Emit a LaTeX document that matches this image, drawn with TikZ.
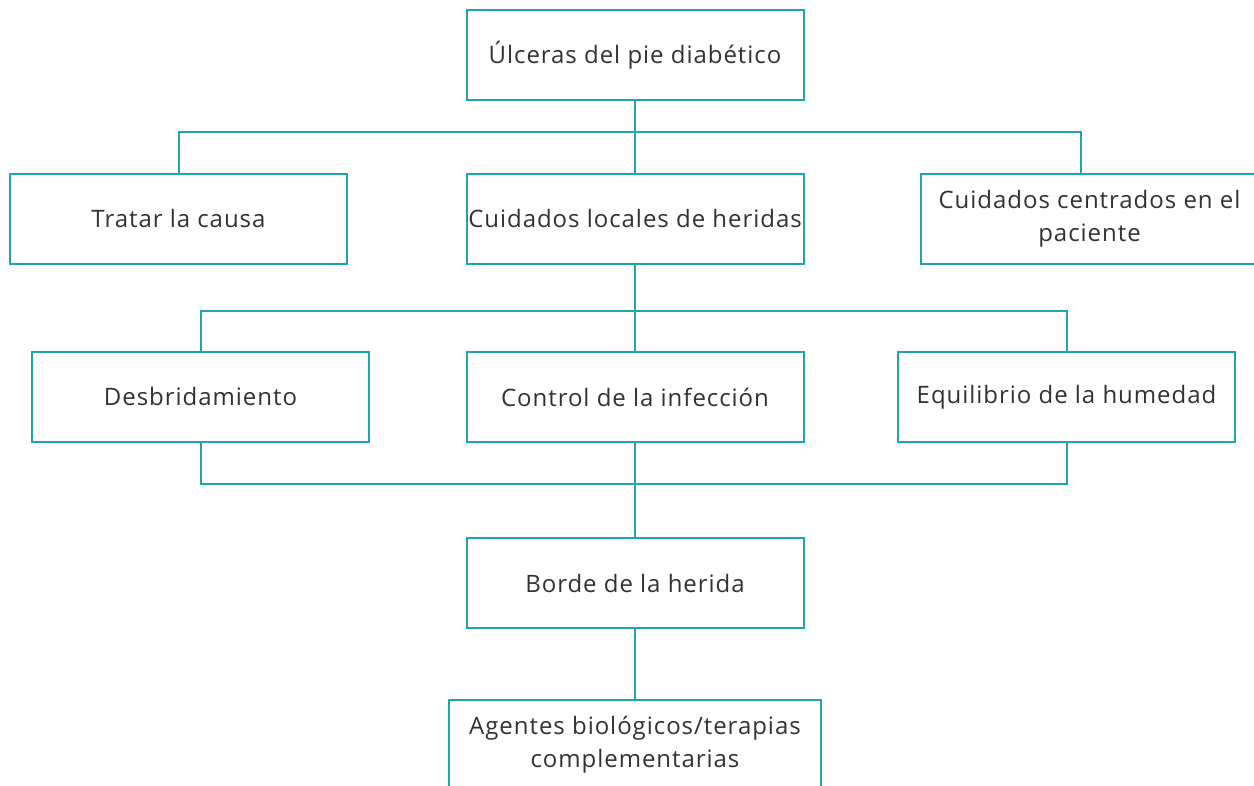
\documentclass[tikz,border=0pt]{standalone}
\usepackage{fontspec}
\setmainfont[LetterSpace=4]{Open Sans}
\definecolor{turquesa}{RGB}{30,165,175}
\definecolor{texto}{RGB}{50,50,50}
\begin{document}
\begin{tikzpicture}[x=0.5pt, y=-0.5pt,
    caja/.style={draw=turquesa, line width=1pt, minimum width=168.5pt, minimum height=45pt,
        inner sep=0pt, align=center, text=texto, font=\fontsize{12}{16.5}\selectfont},
    enlace/.style={draw=turquesa, line width=1pt}]
    \clip (0,0) rectangle (1254,786);

    % nivel 1
    \node[caja] (ulceras) at (635,55) {Úlceras del pie diabético};

    % nivel 2
    \node[caja] (tratar)    at (178.5,219)  {Tratar la causa};
    \node[caja] (locales)   at (635,219)    {Cuidados locales de heridas};
    \node[caja] (centrados) at (1089.5,219) {Cuidados centrados en el\\paciente};

    % nivel 3
    \node[caja] (desbrida)  at (200.5,397)  {Desbridamiento};
    \node[caja] (control)   at (635,397)    {Control de la infección};
    \node[caja] (equilibrio) at (1066.5,397) {Equilibrio de la humedad};

    % niveles 4 y 5
    \node[caja] (borde)   at (635,583) {Borde de la herida};
    \node[caja, minimum width=186pt] (agentes) at (635,745) {Agentes biológicos/terapias\\complementarias};

    \coordinate (bus1) at (635,132);
    \coordinate (bus2) at (635,311);
    \coordinate (bus3) at (635,484);

    \draw[enlace] (ulceras) -- (locales);
    \draw[enlace] (tratar.north) |- (bus1) -| ([xshift=-4.25pt]centrados.north);
    \draw[enlace] (locales) -- (control);
    \draw[enlace] (desbrida.north) |- (bus2) -| (equilibrio.north);
    \draw[enlace] (desbrida.south) |- (bus3) -| (equilibrio.south);
    \draw[enlace] (control) -- (borde);
    \draw[enlace] (borde) -- (agentes);
\end{tikzpicture}
\end{document}
